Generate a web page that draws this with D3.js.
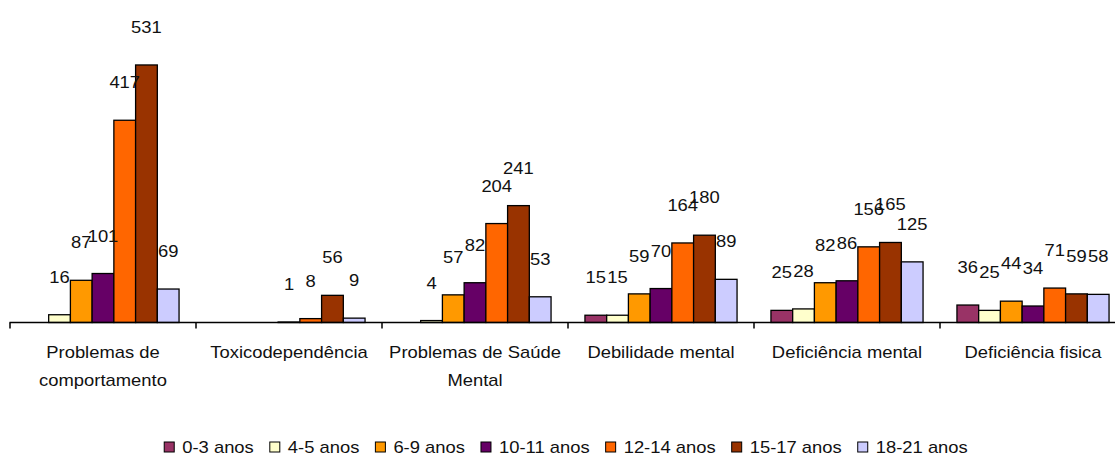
<!DOCTYPE html>
<html>
<head>
<meta charset="utf-8">
<script src="https://cdn.jsdelivr.net/npm/d3@7"></script>
<style>
	body { margin: 0; background: #fff; }
	text { font-family: "Liberation Sans", Arial, sans-serif; font-size: 16px; fill: #111; }
</style>
</head>
<body>
<div id="chart"></div>
<script>
// categories and series
var categories = ["Problemas de comportamento", "Toxicodependência", "Problemas de Saúde Mental", "Debilidade mental", "Deficiência mental", "Deficiência fisica"];
var categoryLines = [["Problemas de", "comportamento"], ["Toxicodependência"], ["Problemas de Saúde", "Mental"], ["Debilidade mental"], ["Deficiência mental"], ["Deficiência fisica"]];
var series = ["0-3 anos", "4-5 anos", "6-9 anos", "10-11 anos", "12-14 anos", "15-17 anos", "18-21 anos"];
var colors = ["#993366", "#FFFFCC", "#FF9900", "#660066", "#FF6600", "#993300", "#CCCCFF"];

var v0_3 = [null, null, null, 15, 25, 36];
var v4_5 = [16, null, 4, 15, 28, 25];
var v6_9 = [87, null, 57, 59, 82, 44];
var v10_11 = [101, 1, 82, 70, 86, 34];
var v12_14 = [417, 8, 204, 164, 156, 71];
var v15_17 = [531, 56, 241, 180, 165, 59];
var v18_21 = [69, 9, 53, 89, 125, 58];
var values = [v0_3, v4_5, v6_9, v10_11, v12_14, v15_17, v18_21];

var width = 1115,
	height = 457,
	stretch = 1.15;

var svg = d3.select("#chart")
	.append("svg")
	.attr("width", width)
	.attr("height", height);

// x scales: one step per category, bars grouped inside
var x0 = d3.scaleBand()
	.domain(categories)
	.range([10, 10 + 6 * 186]);

var x1 = d3.scaleBand()
	.domain(series)
	.range([0, x0.bandwidth()])
	.paddingOuter(0.78);

var y = d3.scaleLinear()
	.domain([0, 600])
	.range([322.5, 31.5]);

// flatten into one list of cells
var cells = [];
categories.forEach(function (c, i) {
	series.forEach(function (s, j) {
		var v = values[j][i];
		if (v !== null) {
			cells.push({cat: c, ser: s, idx: j, value: v});
		}
	});
});

// bars
svg.append("g")
	.selectAll("rect")
	.data(cells)
	.enter()
	.append("rect")
	.attr("x", function (d) { return x0(d.cat) + x1(d.ser); })
	.attr("y", function (d) { return y(d.value); })
	.attr("width", x1.bandwidth())
	.attr("height", function (d) { return y(0) - y(d.value); })
	.attr("fill", function (d) { return colors[d.idx]; })
	.attr("stroke", "#000")
	.attr("stroke-width", 1.3);

// value labels, sitting a bit above each bar
svg.append("g")
	.selectAll("text")
	.data(cells)
	.enter()
	.append("text")
	.attr("transform", function (d) {
		var cx = x0(d.cat) + x1(d.ser) + x1.bandwidth() / 2;
		return "translate(" + cx + "," + (y(d.value) - 32) + ") scale(" + stretch + ",1)";
	})
	.attr("text-anchor", "middle")
	.text(function (d) { return d.value; });

// x axis line and ticks
var axis = svg.append("g");
axis.append("line")
	.attr("x1", 9.5)
	.attr("x2", width)
	.attr("y1", y(0))
	.attr("y2", y(0))
	.attr("stroke", "#000")
	.attr("stroke-width", 1.5);

axis.selectAll("line.tick")
	.data(categories)
	.enter()
	.append("line")
	.attr("class", "tick")
	.attr("x1", function (d) { return x0(d); })
	.attr("x2", function (d) { return x0(d); })
	.attr("y1", y(0))
	.attr("y2", y(0) + 6)
	.attr("stroke", "#000")
	.attr("stroke-width", 1.5);

// category labels
categories.forEach(function (c, i) {
	categoryLines[i].forEach(function (line, k) {
		svg.append("text")
			.attr("transform", "translate(" + (x0(c) + x0.bandwidth() / 2) + "," + (358 + k * 28) + ") scale(" + stretch + ",1)")
			.attr("text-anchor", "middle")
			.text(line);
	});
});

// legend, laid out from measured text widths and centred
var legend = svg.append("g");
var items = legend.selectAll("g")
	.data(series)
	.enter()
	.append("g");

items.append("rect")
	.attr("width", 10)
	.attr("height", 10)
	.attr("y", -11)
	.attr("fill", function (d, i) { return colors[i]; })
	.attr("stroke", "#000")
	.attr("stroke-width", 1);

items.append("text")
	.attr("transform", "translate(18,0) scale(" + stretch + ",1)")
	.text(function (d) { return d; });

var pos = 0;
items.each(function () {
	var g = d3.select(this);
	var w = g.select("text").node().getComputedTextLength() * stretch;
	g.attr("data-x", pos);
	pos += 18 + w + 16;
});
var total = pos - 16;
var start = 566 - total / 2;
items.attr("transform", function () {
	return "translate(" + (start + (+d3.select(this).attr("data-x"))) + ",453)";
});
</script>
</body>
</html>
